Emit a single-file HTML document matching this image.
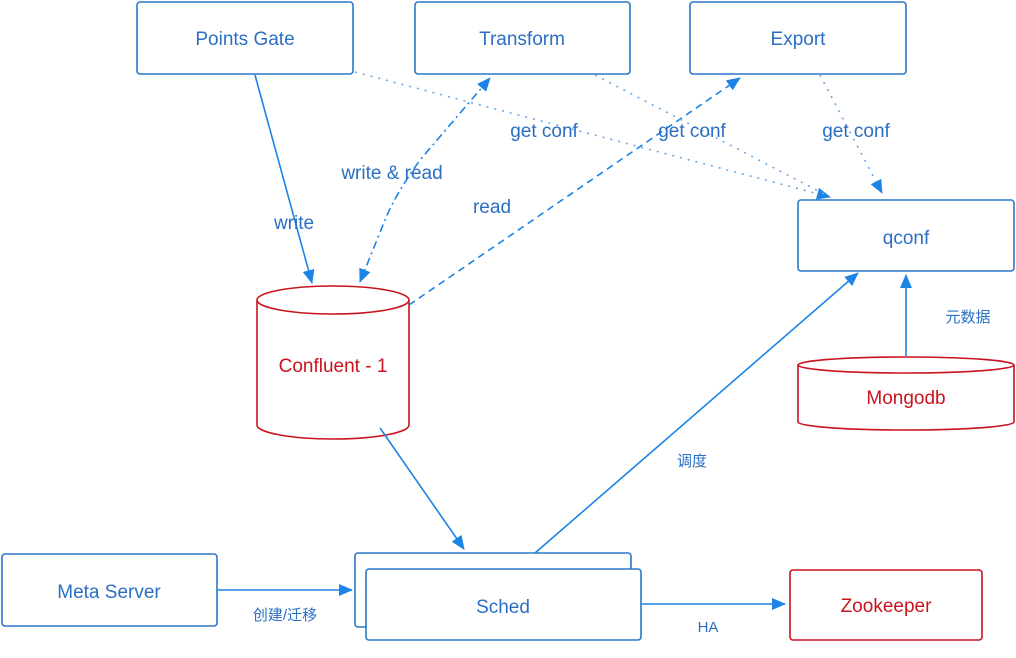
<!DOCTYPE html>
<html><head><meta charset="utf-8"><style>
body{margin:0;background:#fff;width:1016px;height:653px;overflow:hidden}
text{font-family:"Liberation Sans","Noto Sans CJK SC",sans-serif}
</style></head><body>
<svg width="1016" height="653" viewBox="0 0 1016 653" xmlns="http://www.w3.org/2000/svg">
<defs>
<marker id="a2" markerWidth="14" markerHeight="14" refX="13" refY="7" orient="auto" markerUnits="userSpaceOnUse" viewBox="0 0 14 14"><path d="M0,1 L14,7 L0,13 z" fill="#1c84e6"/></marker>
<marker id="s2" markerWidth="14" markerHeight="14" refX="1" refY="7" orient="auto" markerUnits="userSpaceOnUse" viewBox="0 0 14 14"><path d="M14,1 L0,7 L14,13 z" fill="#1c84e6"/></marker>
</defs>
<g fill="#fff" stroke="#2b78c8" stroke-width="1.6">
<rect x="137" y="2" width="216" height="72" rx="3"/>
<rect x="415" y="2" width="215" height="72" rx="3"/>
<rect x="690" y="2" width="216" height="72" rx="3"/>
<rect x="798" y="200" width="216" height="71" rx="3"/>
<rect x="2" y="554" width="215" height="72" rx="3"/>
<rect x="355" y="553" width="276" height="74" rx="3"/>
<rect x="366" y="569" width="275" height="71" rx="3"/>
</g>
<rect x="790" y="570" width="192" height="70" rx="3" fill="#fff" stroke="#c8141e" stroke-width="1.6"/>
<g fill="#fff" stroke="#c8141e" stroke-width="1.6">
<path d="M257,300 L257,425 A76,14 0 0 0 409,425 L409,300"/>
<ellipse cx="333" cy="300" rx="76" ry="14"/>
<path d="M798,365 L798,422 A108,8 0 0 0 1014,422 L1014,365"/>
<ellipse cx="906" cy="365" rx="108" ry="8"/>
</g>
<g stroke="#1c84e6" stroke-width="1.6" fill="none">
<line x1="255" y1="75" x2="312" y2="283" marker-end="url(#a2)"/>
<path d="M360,282 L385,220 Q395,195 420,160 L490,78" stroke-dasharray="8,4,2,4" marker-end="url(#a2)" marker-start="url(#s2)"/>
<line x1="409" y1="305" x2="740" y2="78" stroke-dasharray="7,5" marker-end="url(#a2)"/>
<line x1="355" y1="72" x2="830" y2="197" stroke-dasharray="2,6" stroke="#6aa9e8" marker-end="url(#a2)"/>
<line x1="595" y1="75" x2="830" y2="197" stroke-dasharray="2,6" stroke="#6aa9e8"/>
<line x1="820" y1="75" x2="882" y2="193" stroke-dasharray="2,6" stroke="#6aa9e8" marker-end="url(#a2)"/>
<line x1="380" y1="428" x2="464" y2="549" marker-end="url(#a2)"/>
<line x1="535" y1="553" x2="858" y2="273" marker-end="url(#a2)"/>
<line x1="906" y1="356" x2="906" y2="275" marker-end="url(#a2)"/>
<line x1="217" y1="590" x2="352" y2="590" marker-end="url(#a2)"/>
<line x1="641" y1="604" x2="785" y2="604" marker-end="url(#a2)"/>
</g>
<g fill="#2b6fc4" font-size="19" text-anchor="middle">
<text x="245" y="45">Points Gate</text>
<text x="522" y="45">Transform</text>
<text x="798" y="45">Export</text>
<text x="906" y="244">qconf</text>
<text x="109" y="598">Meta Server</text>
<text x="503" y="613">Sched</text>
<text x="294" y="229">write</text>
<text x="392" y="179">write &amp; read</text>
<text x="492" y="213">read</text>
<text x="544" y="137">get conf</text>
<text x="692" y="137">get conf</text>
<text x="856" y="137">get conf</text>
</g>
<g fill="#c8141e" font-size="19" text-anchor="middle">
<text x="333" y="372">Confluent - 1</text>
<text x="906" y="404">Mongodb</text>
<text x="886" y="612">Zookeeper</text>
</g>
<g fill="#2b6fc4" font-size="15" text-anchor="middle">
<text x="692" y="466">调度</text>
<text x="968" y="322">元数据</text>
<text x="285" y="620">创建/迁移</text>
<text x="708" y="632">HA</text>
</g>
</svg>
</body></html>
